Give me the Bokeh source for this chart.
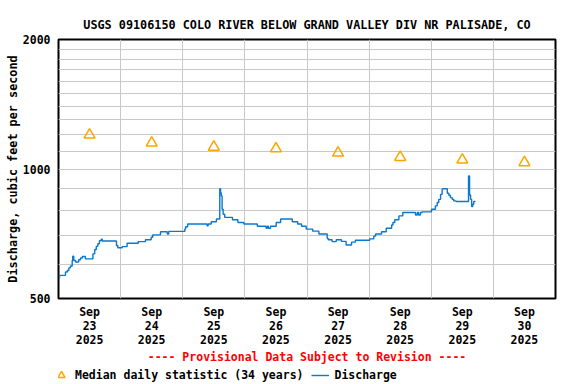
from bokeh.plotting import figure
from bokeh.layouts import column
from bokeh.models import Range1d, FixedTicker, Legend, LegendItem
from bokeh.embed import file_html
from bokeh.resources import INLINE

title_text = "USGS 09106150 COLO RIVER BELOW GRAND VALLEY DIV NR PALISADE, CO"
y_label = "Discharge, cubic feet per second"
provisional_text = "---- Provisional Data Subject to Revision ----"
median_label = "Median daily statistic (34 years)"
discharge_label = "Discharge"

# hours since 2025-09-23 00:00
day_tick_hours = [12, 36, 60, 84, 108, 132, 156, 180]
day_labels = ["Sep\n23\n2025", "Sep\n24\n2025", "Sep\n25\n2025", "Sep\n26\n2025",
              "Sep\n27\n2025", "Sep\n28\n2025", "Sep\n29\n2025", "Sep\n30\n2025"]
day_boundaries = [24, 48, 72, 96, 120, 144, 168]

median_hours = [12, 36, 60, 84, 108, 132, 156, 180]
median_cfs = [1200, 1150, 1125, 1115, 1090, 1065, 1050, 1035]

hours = [0.1, 0.4, 2.7, 3.4, 4.0, 4.6, 5.3, 5.5, 5.9, 6.6, 7.8, 8.5, 9.2, 10.4,
         13.3, 14.0, 14.6, 15.2, 15.8, 16.5, 16.9, 22.4, 22.9, 24.6, 26.5, 30.8,
         33.6, 35.8, 36.4, 39.4, 42.0, 42.6, 48.8, 49.1, 49.9, 57.4, 57.8, 59.0,
         61.0, 62.3, 62.6, 62.9, 63.2, 63.6, 64.2, 67.2, 69.3, 71.6, 76.8, 80.2,
         80.7, 81.1, 81.9, 84.1, 85.8, 90.3, 92.4, 93.9, 95.7, 98.2, 100.6, 103.8,
         104.2, 105.7, 107.3, 109.3, 111.1, 113.2, 114.7, 120.2, 121.8, 122.5,
         124.8, 126.6, 128.7, 129.2, 129.9, 131.5, 133.0, 137.9, 138.6, 139.1,
         139.8, 140.5, 144.1, 145.6, 146.3, 146.9, 147.6, 148.2, 148.4, 150.2,
         150.8, 151.4, 152.1, 152.7, 153.6, 158.4, 158.8, 159.2, 159.6, 160.0,
         160.4, 161.1]
discharge_cfs = [558, 566, 576, 581, 589, 595, 613, 627, 613, 608, 615, 621, 626, 618,
                 635, 650, 661, 670, 681, 687, 680, 664, 656, 660, 672, 678,
                 685, 694, 703, 715, 706, 716, 725, 734, 745, 738, 745, 754,
                 765, 900, 880, 866, 806, 785, 772, 762, 751, 745, 736, 728,
                 736, 728, 736, 751, 765, 754, 745, 736, 725, 717, 706, 690,
                 685, 678, 685, 679, 666, 676, 683, 688, 698, 706,
                 715, 728, 741, 751, 762, 778, 792, 782, 792, 782,
                 792, 795, 806, 821, 836, 850, 873, 897, 900, 878,
                 869, 858, 850, 843, 840, 963, 870, 850, 818, 828,
                 840, 840]

y_ticks = [500, 1000, 2000]
y_grid = [600, 700, 800, 900, 1000, 1100, 1200, 1300, 1400, 1500, 1600, 1700, 1800, 1900]

FONT = "DejaVu Sans Mono"
FS = "11.5px"
LINE_COLOR = "#0a78cc"
TRI_COLOR = "#ffa500"

p = figure(width=576, height=366, min_border_left=58, min_border_right=21,
           min_border_top=39, min_border_bottom=66, y_axis_type="log",
           x_range=Range1d(0, 192), y_range=Range1d(500, 2000),
           output_backend="svg", toolbar_location=None)
p.outline_line_color = "black"
p.outline_line_width = 2
p.background_fill_color = "white"
p.border_fill_color = "white"

p.title.text = title_text
p.title.align = "center"
p.title.offset = -5
p.title.text_font = FONT
p.title.text_font_size = "11.8px"
p.title.text_font_style = "bold"
p.title.text_color = "black"
p.title.standoff = 15

p.xgrid.ticker = FixedTicker(ticks=day_boundaries)
p.ygrid.ticker = FixedTicker(ticks=y_grid)
p.grid.grid_line_color = "#c8c8c8"
p.grid.grid_line_width = 1

p.xaxis.ticker = FixedTicker(ticks=day_tick_hours)
p.xaxis.major_label_overrides = {h: l for h, l in zip(day_tick_hours, day_labels)}
p.yaxis.ticker = FixedTicker(ticks=y_ticks)
p.yaxis.major_label_overrides = {v: str(v) for v in y_ticks}
for ax in (p.xaxis, p.yaxis):
    ax.axis_line_color = None
    ax.major_tick_line_color = None
    ax.minor_tick_line_color = None
    ax.major_tick_out = 0
    ax.major_tick_in = 0
    ax.minor_tick_out = 0
    ax.minor_tick_in = 0
    ax.major_label_text_font = FONT
    ax.major_label_text_font_size = FS
    ax.major_label_text_font_style = "bold"
    ax.major_label_text_color = "black"
    ax.axis_label_text_font = FONT
    ax.axis_label_text_font_style = "bold"
p.xaxis.major_label_standoff = 6
p.xaxis.major_label_text_line_height = 1.0
p.xaxis.axis_label = provisional_text
p.xaxis.axis_label_text_font_size = FS
p.xaxis.axis_label_text_color = "#ff0000"
p.xaxis.axis_label_standoff = 0
p.yaxis.major_label_standoff = 8
p.yaxis.axis_label = y_label
p.yaxis.axis_label_text_font_size = "11.8px"
p.yaxis.axis_label_text_color = "black"
p.yaxis.axis_label_standoff = 0

p.step(hours, discharge_cfs, mode="after", line_color=LINE_COLOR, line_width=1.4)
p.scatter(median_hours, median_cfs, marker="triangle", size=11,
          fill_color=None, line_color=TRI_COLOR, line_width=1.5)

# legend strip below the chart (its key renderers fall outside its tiny view)
lg = figure(width=576, height=18, min_border=0, x_range=Range1d(0, 1), y_range=Range1d(0, 1),
            output_backend="svg", toolbar_location=None,
            x_axis_location=None, y_axis_location=None)
lg.grid.visible = False
lg.outline_line_color = None
lg.background_fill_color = "white"
lg.border_fill_color = "white"
tri_key = lg.scatter(median_hours, median_cfs, marker="triangle", size=11,
                     fill_color=None, line_color=TRI_COLOR, line_width=1.5)
line_key = lg.line(hours, discharge_cfs, line_color=LINE_COLOR, line_width=1.4)
legend = Legend(items=[LegendItem(label=median_label, renderers=[tri_key]),
                       LegendItem(label=discharge_label, renderers=[line_key])],
                orientation="horizontal", location=(-6, 0),
                border_line_color=None, background_fill_alpha=0,
                padding=0, margin=0, glyph_width=18, glyph_height=18,
                label_height=14, label_standoff=5, spacing=8,
                label_text_font=FONT, label_text_font_size=FS,
                label_text_font_style="bold", label_text_color="black")
lg.add_layout(legend)

open("out.html", "w").write(file_html(column(p, lg, spacing=0), INLINE))
